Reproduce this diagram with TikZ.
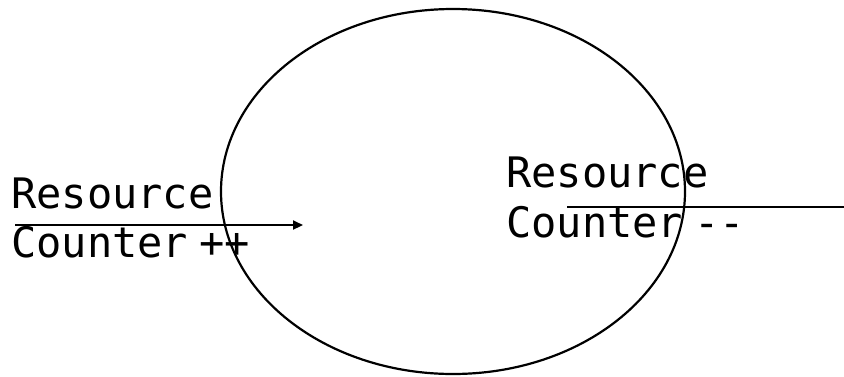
\documentclass[tikz,border=0pt]{standalone}
\usepackage{fontspec}
\setmainfont[Ligatures=NoCommon]{DejaVu Sans Mono}
\usetikzlibrary{arrows.meta}
\begin{document}
\begin{tikzpicture}[x=1pt,y=-1pt,
  lbl/.style={anchor=base west,inner sep=0pt,font=\fontsize{42}{42}\selectfont},
  ln/.style={line width=2.2pt}]
\useasboundingbox (0,0) rectangle (844,376);
\draw[ln] (453,191.5) ellipse [x radius=232, y radius=182.5];
\node[lbl] (r1) at (11,208) {Resource};
\node[lbl] (c1) at (11,257) {Counter\hspace{11.5pt}++};
\node[lbl] (r2) at (506,187) {Resource};
\node[lbl] (c2) at (506,237) {Counter\hspace{11.5pt}{-}{-}};
\coordinate (a1) at (15,225);
\coordinate (a2) at (303,225);
\coordinate (b1) at (567,207);
\coordinate (b2) at (844,207);
\draw[ln,-{Triangle[length=10pt,width=9pt]}] (a1) -- (a2);
\draw[ln] (b1) -- (b2);
\end{tikzpicture}
\end{document}
